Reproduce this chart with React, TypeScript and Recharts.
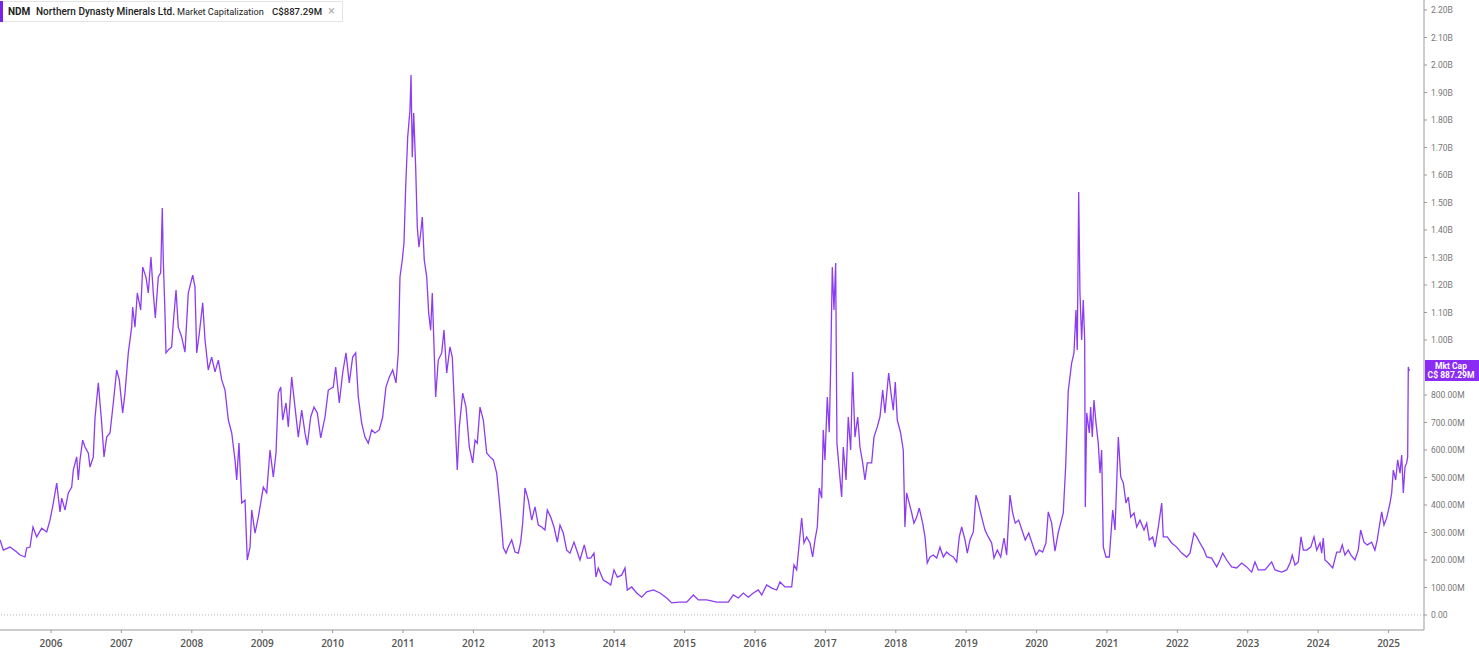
import React from "react";
import { LineChart, Line, XAxis, YAxis, ReferenceLine } from "recharts";

// market cap in C$ millions, [decimal year, value]
const cap2005to2008: [number, number][] = [
  [2005.276, 273], [2005.323, 236], [2005.418, 247], [2005.513, 229], [2005.56, 218], [2005.631, 211],
  [2005.655, 244], [2005.702, 247], [2005.744, 320], [2005.797, 284], [2005.868, 316], [2005.939, 302],
  [2005.986, 345], [2006.033, 407], [2006.081, 480], [2006.128, 375], [2006.152, 425], [2006.199, 382],
  [2006.246, 444], [2006.294, 465], [2006.317, 527], [2006.365, 575], [2006.388, 491], [2006.412, 564],
  [2006.45, 636], [2006.483, 611], [2006.53, 589], [2006.554, 538], [2006.601, 575], [2006.625, 716],
  [2006.672, 844], [2006.72, 698], [2006.753, 575], [2006.791, 647], [2006.838, 662], [2006.885, 771],
  [2006.933, 891], [2006.97, 855], [2007.018, 735], [2007.051, 807], [2007.098, 953], [2007.146, 1047],
  [2007.16, 1120], [2007.193, 1047], [2007.226, 1171], [2007.274, 1109], [2007.303, 1265], [2007.349, 1229],
  [2007.382, 1171], [2007.42, 1302], [2007.453, 1171], [2007.482, 1080], [2007.524, 1229], [2007.558, 1244],
  [2007.581, 1480], [2007.595, 1291], [2007.619, 1098], [2007.633, 953], [2007.666, 964], [2007.714, 975],
  [2007.737, 1062], [2007.776, 1182], [2007.808, 1047], [2007.856, 1011], [2007.903, 956], [2007.95, 1171],
  [2008.013, 1236], [2008.045, 1193], [2008.07, 953], [2008.107, 1025], [2008.155, 1135], [2008.188, 1000],
  [2008.234, 891], [2008.282, 938], [2008.33, 884], [2008.377, 927], [2008.425, 855], [2008.472, 818],
  [2008.519, 709], [2008.567, 662], [2008.614, 564], [2008.638, 491], [2008.67, 625], [2008.709, 407],
  [2008.756, 418], [2008.788, 200],
];

const cap2009to2012: [number, number][] = [
  [2008.827, 247], [2008.851, 382], [2008.898, 298], [2008.945, 356], [2009.016, 465], [2009.064, 444],
  [2009.111, 600], [2009.158, 502], [2009.196, 589], [2009.229, 807], [2009.263, 829], [2009.291, 709],
  [2009.338, 771], [2009.371, 684], [2009.419, 865], [2009.466, 756], [2009.513, 647], [2009.561, 745],
  [2009.608, 662], [2009.641, 618], [2009.689, 720], [2009.736, 756], [2009.783, 735], [2009.831, 644],
  [2009.892, 720], [2009.939, 818], [2010.01, 829], [2010.044, 902], [2010.095, 771], [2010.143, 880],
  [2010.19, 953], [2010.237, 844], [2010.285, 938], [2010.328, 953], [2010.365, 793], [2010.413, 698],
  [2010.46, 647], [2010.507, 625], [2010.555, 673], [2010.602, 662], [2010.663, 673], [2010.711, 720],
  [2010.758, 829], [2010.805, 865], [2010.854, 891], [2010.901, 844], [2010.933, 953], [2010.957, 1229],
  [2010.99, 1291], [2011.014, 1353], [2011.038, 1556], [2011.067, 1738], [2011.099, 1836], [2011.114, 1964],
  [2011.132, 1665], [2011.152, 1825], [2011.18, 1629], [2011.203, 1411], [2011.227, 1338], [2011.251, 1389],
  [2011.274, 1447], [2011.302, 1291], [2011.337, 1229], [2011.365, 1098], [2011.393, 1036], [2011.416, 1171],
  [2011.464, 793], [2011.501, 927], [2011.55, 953], [2011.582, 1036], [2011.621, 880], [2011.667, 975],
  [2011.7, 938], [2011.729, 771], [2011.771, 527], [2011.8, 684], [2011.848, 807], [2011.895, 756],
  [2011.942, 611], [2011.99, 553], [2012.023, 636], [2012.055, 625], [2012.094, 756], [2012.141, 709],
  [2012.189, 589], [2012.236, 575], [2012.283, 564], [2012.331, 516], [2012.368, 418], [2012.402, 320],
  [2012.425, 244], [2012.463, 225], [2012.496, 247], [2012.544, 273], [2012.591, 229], [2012.638, 225],
  [2012.672, 265], [2012.7, 334], [2012.733, 462], [2012.78, 418], [2012.828, 345], [2012.875, 393],
  [2012.922, 327], [2012.97, 320],
];

const cap2013to2016: [number, number][] = [
  [2013.017, 309], [2013.05, 382], [2013.098, 356], [2013.145, 320], [2013.192, 265], [2013.23, 327],
  [2013.277, 298], [2013.325, 236], [2013.372, 225], [2013.429, 265], [2013.476, 229], [2013.514, 200],
  [2013.575, 255], [2013.618, 207], [2013.666, 207], [2013.713, 225], [2013.741, 138], [2013.774, 171],
  [2013.845, 127], [2013.916, 116], [2013.95, 109], [2013.997, 164], [2014.044, 138], [2014.106, 145],
  [2014.153, 171], [2014.186, 91], [2014.248, 102], [2014.32, 80], [2014.391, 65], [2014.462, 84],
  [2014.556, 91], [2014.651, 80], [2014.746, 62], [2014.817, 44], [2014.911, 47], [2015.03, 47],
  [2015.124, 73], [2015.195, 55], [2015.314, 55], [2015.456, 47], [2015.621, 47], [2015.692, 73],
  [2015.763, 62], [2015.834, 80], [2015.905, 65], [2015.976, 80], [2016.047, 91], [2016.095, 73],
  [2016.166, 109], [2016.237, 98], [2016.308, 91], [2016.355, 120], [2016.426, 102], [2016.521, 102],
  [2016.554, 182], [2016.592, 164], [2016.629, 262], [2016.663, 353], [2016.696, 262], [2016.734, 284],
  [2016.781, 262], [2016.819, 211], [2016.852, 273], [2016.885, 320], [2016.913, 462], [2016.947, 425],
  [2016.97, 673], [2016.994, 564],
];

const cap2017to2020: [number, number][] = [
  [2017.027, 793], [2017.055, 665], [2017.075, 902], [2017.098, 1265], [2017.122, 1109], [2017.146, 1280],
  [2017.164, 625], [2017.197, 527], [2017.231, 429], [2017.254, 611], [2017.293, 491], [2017.325, 720],
  [2017.359, 600], [2017.387, 884], [2017.42, 647], [2017.459, 720], [2017.491, 611], [2017.53, 553],
  [2017.562, 491], [2017.595, 553], [2017.657, 553], [2017.69, 647], [2017.737, 684], [2017.775, 720],
  [2017.814, 818], [2017.846, 735], [2017.899, 880], [2017.932, 807], [2017.964, 745], [2017.993, 847],
  [2018.021, 709], [2018.069, 662], [2018.106, 600], [2018.13, 320], [2018.154, 444], [2018.191, 407],
  [2018.226, 371], [2018.258, 334], [2018.297, 356], [2018.333, 389], [2018.382, 334], [2018.415, 284],
  [2018.447, 189], [2018.486, 211], [2018.533, 218], [2018.581, 207], [2018.628, 247], [2018.675, 211],
  [2018.723, 229], [2018.77, 218], [2018.817, 211], [2018.865, 193], [2018.902, 284], [2018.936, 320],
  [2018.983, 273], [2019.016, 225], [2019.054, 273], [2019.101, 302], [2019.139, 436], [2019.172, 407],
  [2019.22, 356], [2019.267, 309], [2019.314, 284], [2019.362, 262], [2019.395, 207], [2019.442, 236],
  [2019.49, 211], [2019.537, 280], [2019.575, 218], [2019.622, 436], [2019.66, 371], [2019.697, 334],
  [2019.745, 345], [2019.792, 309], [2019.839, 273], [2019.888, 298], [2019.935, 262], [2019.991, 218],
  [2020.038, 236], [2020.086, 229], [2020.133, 262], [2020.166, 375], [2020.214, 334], [2020.261, 232],
  [2020.308, 300], [2020.342, 334], [2020.379, 371], [2020.413, 540], [2020.45, 815], [2020.498, 916],
  [2020.531, 953], [2020.559, 1109], [2020.578, 964], [2020.598, 1538], [2020.616, 1171], [2020.64, 1000],
  [2020.663, 1145], [2020.683, 1000], [2020.692, 393], [2020.712, 735], [2020.749, 662], [2020.768, 756],
  [2020.791, 647], [2020.815, 782], [2020.844, 698], [2020.876, 625], [2020.901, 516], [2020.924, 600],
  [2020.948, 247], [2020.986, 211],
];

const cap2021to2025: [number, number][] = [
  [2021.033, 211], [2021.081, 382], [2021.114, 309], [2021.138, 480], [2021.161, 647], [2021.195, 502],
  [2021.232, 480], [2021.27, 407], [2021.303, 429], [2021.337, 356], [2021.384, 371], [2021.422, 320],
  [2021.469, 345], [2021.526, 309], [2021.564, 334], [2021.601, 273], [2021.649, 284], [2021.682, 247],
  [2021.729, 320], [2021.777, 407], [2021.8, 284], [2021.857, 284], [2021.919, 262], [2021.99, 247],
  [2022.061, 225], [2022.132, 211], [2022.179, 225], [2022.236, 298], [2022.274, 284], [2022.321, 262],
  [2022.378, 236], [2022.416, 211], [2022.487, 207], [2022.558, 175], [2022.605, 200], [2022.643, 225],
  [2022.7, 200], [2022.771, 175], [2022.842, 171], [2022.913, 189], [2022.984, 175], [2023.055, 156],
  [2023.102, 193], [2023.149, 164], [2023.244, 164], [2023.339, 193], [2023.387, 164], [2023.482, 156],
  [2023.553, 164], [2023.6, 189], [2023.632, 218], [2023.671, 182], [2023.718, 193], [2023.756, 284],
  [2023.789, 236], [2023.837, 236], [2023.894, 247], [2023.941, 284], [2023.979, 236], [2024.026, 262],
  [2024.05, 225], [2024.072, 280], [2024.096, 200], [2024.143, 189], [2024.206, 171], [2024.263, 229],
  [2024.31, 229], [2024.342, 255], [2024.38, 218], [2024.427, 236], [2024.466, 218], [2024.522, 200],
  [2024.569, 236], [2024.603, 309], [2024.65, 265], [2024.697, 255], [2024.759, 265], [2024.806, 236],
  [2024.839, 273], [2024.867, 320], [2024.902, 375], [2024.935, 327], [2024.973, 353], [2025.02, 407],
  [2025.044, 444], [2025.067, 527], [2025.101, 491], [2025.129, 564], [2025.162, 516], [2025.186, 582],
  [2025.209, 444], [2025.233, 538], [2025.257, 553], [2025.271, 575], [2025.28, 902], [2025.294, 887.29],
];

const yearTicks = [
  2006, 2007, 2008, 2009, 2010, 2011, 2012, 2013, 2014, 2015, 2016, 2017, 2018, 2019, 2020, 2021, 2022,
  2023, 2024, 2025,
];
// 900M is hidden behind the price badge
const capTicks = [
  0, 100, 200, 300, 400, 500, 600, 700, 800, 1000, 1100, 1200, 1300, 1400, 1500, 1600, 1700, 1800, 1900,
  2000, 2100, 2200,
];
const lastCap = 887.29;

const data = [...cap2005to2008, ...cap2009to2012, ...cap2013to2016, ...cap2017to2020, ...cap2021to2025].map(
  ([t, v]) => ({ t, v })
);

const purple = "#8c3cf2";
const axisGrey = "#9a9a9a";

const fmtCap = (v: number) => {
  if (v === 0) return "0.00";
  if (v >= 1000) return `${(v / 1000).toFixed(2)}B`;
  return `${v.toFixed(2)}M`;
};

const Badge: React.FC<any> = ({ viewBox }) => {
  if (!viewBox) return null;
  const x = viewBox.x + viewBox.width + 1;
  const y = viewBox.y;
  return (
    <g>
      <rect x={x} y={y - 11} width={60} height={21} fill="#8b2cf5" />
      <text x={x + 26} y={y - 2} textAnchor="middle" fill="#fff" fontSize={8.5} fontWeight={700} fontFamily="Roboto, sans-serif">
        Mkt Cap
      </text>
      <text x={x + 26} y={y + 7} textAnchor="middle" fill="#fff" fontSize={8.5} fontWeight={700} fontFamily="Roboto, sans-serif">
        C$ 887.29M
      </text>
    </g>
  );
};

const Chip: React.FC = () => {
  const txt: React.CSSProperties = { position: "absolute", top: 4, whiteSpace: "nowrap", lineHeight: "12px" };
  return (
    <div
      style={{
        position: "absolute",
        left: 0,
        top: 1,
        width: 343,
        height: 21,
        boxSizing: "border-box",
        border: "1px solid #e4e4e4",
        background: "#fff",
        fontFamily: "Roboto, sans-serif",
        fontSize: 10,
        color: "#222",
      }}
    >
      <div style={{ position: "absolute", left: -1, top: -1, width: 3, height: 21, background: "#7a22ea" }} />
      <span style={{ ...txt, left: 7, fontWeight: 700 }}>NDM</span>
      <span style={{ ...txt, left: 35, fontWeight: 500 }}>Northern Dynasty Minerals Ltd.</span>
      <span style={{ ...txt, left: 176, fontSize: 9.2 }}>Market Capitalization</span>
      <span style={{ ...txt, left: 271, fontWeight: 500, fontSize: 9.6 }}>C$887.29M</span>
      <span style={{ ...txt, left: 327, top: 3, color: "#b0b0b0", fontSize: 13 }}>×</span>
    </div>
  );
};

export default function App() {
  return (
    <div style={{ position: "fixed", left: 0, top: 0, width: 1479, height: 649, background: "#fff", overflow: "hidden" }}>
      <LineChart width={1479} height={649} data={data} margin={{ top: 0, right: 0, bottom: 0, left: 0 }}>
        <XAxis
          dataKey="t"
          type="number"
          domain={[2005.2756, 2025.503]}
          allowDataOverflow
          ticks={yearTicks}
          tickFormatter={(v) => String(v)}
          height={19}
          stroke={axisGrey}
          tickSize={3}
          tickMargin={7}
          tick={{ fill: "#555", fontSize: 10, fontWeight: 600, fontFamily: "Open Sans, sans-serif" }}
          interval={0}
        />
        <YAxis
          orientation="right"
          type="number"
          domain={[-54.5, 2236.4]}
          allowDataOverflow
          ticks={capTicks}
          tickFormatter={fmtCap}
          width={55}
          stroke={axisGrey}
          tickSize={3}
          tickMargin={4}
          tick={{ fill: "#777", fontSize: 8.5, fontFamily: "Roboto, sans-serif" }}
          interval={0}
        />
        <ReferenceLine y={0} stroke="#b5b5b5" strokeDasharray="1 2" />
        <Line
          type="linear"
          dataKey="v"
          stroke={purple}
          strokeWidth={1.3}
          dot={false}
          activeDot={false}
          isAnimationActive={false}
        />
        <ReferenceLine y={lastCap} stroke="none" label={<Badge />} />
      </LineChart>
      <Chip />
    </div>
  );
}
